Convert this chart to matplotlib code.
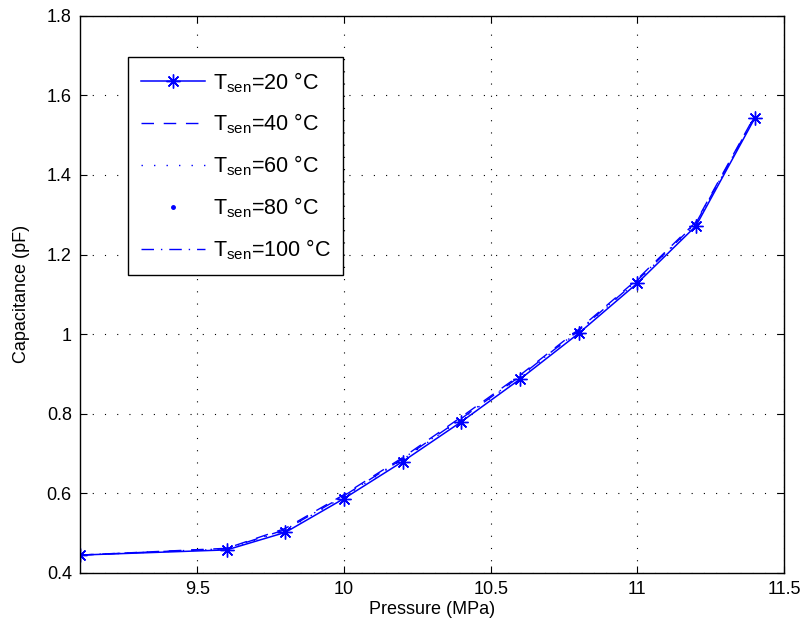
import matplotlib
matplotlib.use("Agg")
import matplotlib.pyplot as plt

plt.rcParams['font.family'] = ['Liberation Sans', 'DejaVu Sans']
plt.rcParams['mathtext.default'] = 'regular'

pressure = [9.1, 9.6, 9.8, 10.0, 10.2, 10.4, 10.6, 10.8, 11.0, 11.2, 11.4]
cap_20 = [0.445, 0.458, 0.502, 0.587, 0.680, 0.780, 0.887, 1.002, 1.128, 1.272, 1.542]
cap_40 = [0.445, 0.462, 0.512, 0.597, 0.690, 0.792, 0.897, 1.012, 1.138, 1.282, 1.548]
cap_60 = [0.445, 0.460, 0.507, 0.592, 0.685, 0.786, 0.892, 1.007, 1.133, 1.277, 1.545]
cap_80 = [0.445, 0.459, 0.505, 0.590, 0.683, 0.783, 0.890, 1.005, 1.130, 1.275, 1.543]
cap_100 = [0.445, 0.461, 0.509, 0.594, 0.687, 0.788, 0.894, 1.009, 1.135, 1.279, 1.546]
labels = ['T$_{sen}$=20 °C', 'T$_{sen}$=40 °C', 'T$_{sen}$=60 °C',
          'T$_{sen}$=80 °C', 'T$_{sen}$=100 °C']

fig = plt.figure(figsize=(8.09, 6.32), dpi=100)
ax = fig.add_axes([0.099, 0.0934, 0.870, 0.8816])

ax.plot(pressure, cap_20, color='b', linestyle='-', marker=(8, 2, 0), markersize=10,
        markeredgewidth=1.0, linewidth=1.1, label=labels[0])
ax.plot(pressure, cap_40, color='b', linestyle=(0, (9, 7)), linewidth=1.0, label=labels[1])
ax.plot(pressure, cap_60, color='b', linestyle=(0, (1, 8)), linewidth=1.0, label=labels[2])
ax.plot(pressure, cap_80, color='b', linestyle='none', marker='.', markersize=5,
        label=labels[3])
ax.plot(pressure, cap_100, color='b', linestyle=(0, (9, 5, 1, 5)), linewidth=1.0,
        label=labels[4])

ax.set_xlim(9.1, 11.5)
ax.set_ylim(0.4, 1.8)
ax.set_xticks([9.5, 10, 10.5, 11, 11.5])
ax.set_xticklabels(['9.5', '10', '10.5', '11', '11.5'])
ax.set_yticks([0.4, 0.6, 0.8, 1.0, 1.2, 1.4, 1.6, 1.8])
ax.set_yticklabels(['0.4', '0.6', '0.8', '1', '1.2', '1.4', '1.6', '1.8'])
ax.tick_params(direction='in', top=True, right=True, labelsize=13, length=5, pad=6)
ax.grid(True, color='black', linestyle=(0, (1, 10)), linewidth=0.8)
for s in ax.spines.values():
    s.set_linewidth(1.0)

ax.set_xlabel('Pressure (MPa)', fontsize=13, labelpad=2)
ax.set_ylabel('Capacitance (pF)', fontsize=13, labelpad=12)

leg = ax.legend(loc='upper left', bbox_to_anchor=(0.068, 0.926), fontsize=15.5,
                handlelength=3.0, handletextpad=0.33, labelspacing=0.8,
                borderpad=0.6, frameon=True, fancybox=False, borderaxespad=0)
leg.get_frame().set_edgecolor('black')
leg.get_frame().set_linewidth(1.0)
leg.get_frame().set_alpha(1)

fig.savefig('out.png', dpi=100)
